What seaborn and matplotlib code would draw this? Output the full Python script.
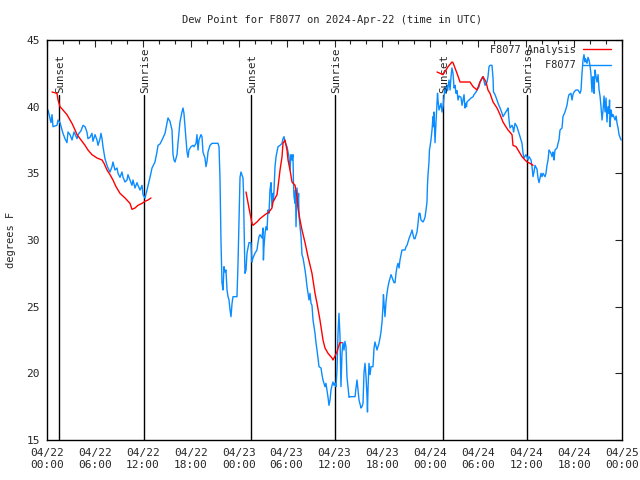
import numpy as np
import pandas as pd
import matplotlib
matplotlib.use("Agg")
import matplotlib.pyplot as plt
import seaborn as sns
from matplotlib.lines import Line2D

# ---------------- data ----------------
# hours since 2024-04-22 00:00 UTC
obs_hours = [0.13, 0.50, 0.63, 0.75, 1.25, 1.38, 1.63, 2.0, 2.25, 2.5, 2.63, 2.88, 3.13, 3.38, 3.76, 3.88,
             4.26, 4.51, 4.76, 5.0, 5.13, 5.38, 5.63, 5.76, 6.01, 6.26, 6.39, 6.64, 6.76, 6.89, 7.01, 7.26,
             7.51, 7.64, 7.89, 8.14, 8.26, 8.51, 8.77, 8.89, 9.14, 9.39, 9.52, 9.77, 10.02, 10.14, 10.39,
             10.64, 10.77, 11.02, 11.27, 11.39, 11.65, 11.9, 12.02, 12.27, 12.52, 12.9, 13.15, 13.52, 13.77,
             13.9, 14.15, 14.4, 14.78, 15.03, 15.15, 15.4, 15.65, 15.78, 15.9, 16.03, 16.28, 16.4, 16.65,
             16.9, 17.03, 17.15, 17.41, 17.53, 17.66, 17.78, 18.03, 18.28, 18.41, 18.66, 18.78, 18.91, 19.03,
             19.28, 19.41, 19.53, 19.78, 19.91, 20.04, 20.16, 20.41, 20.66, 21.41, 21.54, 21.66, 21.79, 21.91,
             22.04, 22.16, 22.29, 22.41, 22.54, 22.67, 22.79, 22.92, 23.04, 23.17, 23.29, 23.79, 23.92, 24.04,
             24.17, 24.29, 24.54, 24.6, 24.67, 24.79, 24.92, 25.04, 25.29, 25.54, 25.67, 25.79, 26.04, 26.29,
             26.42, 26.55, 26.67, 26.92, 27.05, 27.1, 27.17, 27.3, 27.42, 27.55, 27.67, 27.8, 27.92, 28.05,
             28.17, 28.3, 28.36, 28.43, 28.55, 28.68, 28.8, 28.93, 29.18, 29.43, 29.55, 29.68, 29.8, 30.05,
             30.18, 30.3, 30.43, 30.55, 30.68, 30.8, 30.86, 30.93, 31.06, 31.12, 31.18, 31.31, 31.43, 31.5,
             31.56, 31.81, 31.93, 32.06, 32.31, 32.43, 32.56, 32.68, 32.81, 32.93, 33.06, 33.18, 33.31, 33.56,
             33.68, 33.81, 34.06, 34.31, 34.43, 34.56, 34.81, 34.93, 35.06, 35.19, 35.31, 35.44, 35.56, 35.69,
             35.81, 35.94, 36.06, 36.19, 36.31, 36.37, 36.44, 36.56, 36.69, 36.81, 36.94, 37.06, 37.19, 37.31,
             37.44, 37.56, 37.69, 37.82, 37.94, 38.19, 38.57, 38.69, 38.82, 38.94, 39.07, 39.32, 39.44, 39.57,
             39.7, 39.82, 39.95, 40.07, 40.13, 40.2, 40.32, 40.45, 40.57, 40.82, 40.88, 40.95, 41.07, 41.32,
             41.45, 41.57, 41.7, 41.82, 41.95, 42.07, 42.13, 42.2, 42.32, 42.45, 42.57, 42.7, 42.82, 43.08,
             43.2, 43.33, 43.45, 43.58, 43.7, 43.83, 43.95, 44.08, 44.2, 44.33, 44.45, 44.83, 44.96, 45.08,
             45.21, 45.33, 45.58, 45.71, 45.83, 45.96, 46.08, 46.33, 46.46, 46.58, 46.71, 46.83, 47.08, 47.21,
             47.33, 47.46, 47.58, 47.64, 47.71, 47.83, 47.89, 47.96, 48.08, 48.21, 48.33, 48.39, 48.46, 48.59,
             48.71, 48.84, 48.9, 48.96, 49.09, 49.34, 49.46, 49.59, 49.71, 49.84, 49.96, 50.09, 50.15, 50.22,
             50.34, 50.47, 50.59, 50.71, 50.84, 50.9, 50.97, 51.09, 51.22, 51.34, 51.47, 51.59, 51.84, 51.97,
             52.09, 52.22, 52.34, 52.47, 52.53, 52.59, 52.85, 53.1, 53.35, 53.47, 53.72, 53.85, 54.1, 54.22,
             54.47, 54.6, 54.85, 55.1, 55.22, 55.35, 55.47, 55.72, 55.85, 55.91, 56.1, 56.35, 56.48, 56.73,
             56.98, 57.1, 57.35, 57.6, 57.73, 57.85, 57.98, 58.23, 58.35, 58.42, 58.61, 58.85, 58.98, 59.23,
             59.48, 59.61, 59.73, 59.98, 60.11, 60.23, 60.36, 60.61, 60.73, 60.86, 60.98, 61.11, 61.36, 61.42,
             61.48, 61.61, 61.86, 61.98, 62.11, 62.36, 62.48, 62.61, 62.74, 62.86, 63.11, 63.24, 63.36, 63.42,
             63.49, 63.61, 63.86, 63.99, 64.11, 64.24, 64.49, 64.61, 64.86, 65.11, 65.24, 65.36, 65.61, 65.74,
             65.86, 65.99, 66.24, 66.49, 66.74, 66.87, 66.99, 67.12, 67.24, 67.37, 67.43, 67.62, 67.74, 67.87,
             67.99, 68.12, 68.24, 68.37, 68.43, 68.5, 68.62, 68.75, 68.87, 69.0, 69.13, 69.25, 69.37, 69.5,
             69.63, 69.75, 69.88, 70.0, 70.12, 70.25, 70.38, 70.44, 70.5, 70.63, 70.75, 70.88, 71.13, 71.26,
             71.38, 71.51, 71.63, 71.88]
obs_dewpt = [39.75, 38.8, 39.4, 38.5, 38.6, 39.0, 38.8, 38.0, 37.6, 37.3, 38.1, 37.9, 37.5, 38.1, 37.6, 37.9,
             38.2, 38.6, 38.5, 38.1, 37.6, 37.7, 38.0, 37.4, 37.9, 37.5, 37.1, 37.6, 38.0, 37.6, 37.0, 36.1,
             35.6, 35.4, 35.1, 35.5, 35.85, 35.25, 35.4, 35.0, 34.7, 35.1, 34.7, 34.35, 34.5, 34.9, 34.5,
             34.1, 34.5, 33.9, 34.3, 34.1, 33.75, 34.1, 33.4, 33.15, 33.75, 34.7, 35.4, 35.85, 36.6,
             37.1, 37.2, 37.5, 38.0, 38.75, 39.15, 38.9, 38.25, 36.4, 36.0, 35.85, 36.4, 37.25, 38.85,
             39.6, 39.9, 39.5, 37.5, 36.6, 36.2, 36.75, 37.0, 37.1, 37.0, 37.25, 37.9, 36.75, 37.5,
             37.9, 37.75, 36.6, 36.15, 35.5, 35.9, 36.6, 37.1, 37.25, 37.25, 37.0, 34.65, 29.8, 26.8,
             26.25, 28.0, 27.6, 27.75, 26.25, 25.75, 25.5, 24.75, 24.25, 25.25, 25.75, 25.75, 28.3, 31.25,
             34.7, 35.1, 34.65, 33.75, 31.25, 27.5, 27.75, 29.0, 29.8, 29.8, 28.35, 28.65, 29.0, 29.25,
             29.8, 30.25, 30.4, 30.15, 30.9, 28.5, 29.5, 30.5, 31.0, 30.75, 32.25, 32.0, 33.75, 34.3,
             32.5, 33.5, 33.0, 33.75, 35.5, 36.25, 36.6, 37.0, 37.1, 37.25, 37.6, 37.75, 37.35, 37.0,
             36.6, 36.25, 35.25, 36.4, 36.0, 36.4, 34.3, 33.25, 32.75, 33.75, 31.0, 33.9, 32.5, 33.5,
             31.75, 30.25, 28.9, 28.65, 27.75, 27.2, 26.5, 26.0, 25.5, 26.0, 25.25, 25.1, 24.0, 23.0,
             22.3, 21.75, 20.5, 20.4, 19.9, 19.5, 19.0, 19.25, 18.75, 18.2, 17.6, 18.0, 18.75, 19.1,
             19.35, 19.1, 19.25, 19.0, 20.25, 21.5, 23.0, 24.5, 22.75, 19.0, 21.5, 22.3, 21.75, 22.4,
             22.0, 19.75, 19.0, 18.2, 18.25, 18.25, 18.25, 18.9, 19.5, 18.75, 18.0, 17.4, 17.5, 17.75,
             20.1, 20.75, 19.75, 18.25, 17.1, 18.9, 20.75, 19.9, 20.5, 20.5, 21.15, 21.9, 22.35, 21.75,
             22.0, 22.25, 22.65, 23.1, 23.85, 25.0, 25.9, 25.3, 24.25, 25.35, 26.0, 26.5, 26.85, 27.4,
             27.2, 27.0, 26.8, 26.8, 27.5, 28.0, 28.25, 27.9, 28.5, 28.9, 29.25, 29.25, 29.5, 29.6,
             29.85, 30.1, 30.5, 30.75, 30.4, 30.1, 30.1, 30.6, 31.25, 32.0, 32.0, 31.5, 31.35, 31.5,
             31.7, 32.25, 32.85, 34.1, 34.9, 35.85, 36.75, 37.0, 37.5, 38.25, 39.25, 38.5, 39.6, 37.3,
             38.85, 40.25, 41.0, 40.5, 39.75, 40.25, 39.6, 40.0, 40.75, 41.5, 41.0, 41.6, 41.2, 41.5,
             42.0, 41.25, 42.25, 42.9, 42.5, 42.0, 41.4, 41.6, 41.0, 41.2, 40.5, 40.8, 40.7, 40.1,
             40.5, 40.9, 39.9, 40.25, 40.0, 40.35, 40.5, 40.65, 40.75, 40.9, 41.1, 41.25, 41.5, 41.85,
             42.15, 42.25, 41.6, 41.85, 42.25, 43.0, 43.1, 43.1, 42.15, 41.1, 40.9, 40.5, 40.25, 39.9,
             39.5, 39.25, 39.5, 39.75, 39.9, 39.0, 38.4, 38.6, 38.4, 38.1, 38.75, 38.5, 38.25, 37.75,
             37.25, 36.5, 36.15, 36.4, 36.25, 36.0, 36.25, 36.0, 35.5, 34.75, 35.1, 35.6, 35.3, 35.0,
             34.65, 34.3, 35.0, 34.75, 35.0, 34.75, 35.0, 35.6, 36.0, 36.75, 36.5, 36.25, 36.6, 36.4,
             36.0, 36.75, 36.9, 37.25, 37.5, 38.25, 38.4, 39.25, 39.6, 40.1, 40.6, 40.9, 41.0, 40.5,
             40.9, 41.1, 41.25, 41.25, 41.0, 41.25, 42.5, 43.5, 43.9, 43.35, 43.6, 43.25, 43.7, 43.5,
             43.1, 42.4, 41.1, 42.25, 41.75, 41.0, 42.75, 42.25, 41.85, 42.4, 41.25, 40.8, 40.0, 39.0,
             39.75, 40.8, 39.6, 40.65, 38.85, 40.0, 39.5, 40.5, 38.5, 39.75, 39.25, 39.4, 39.0, 39.3,
             38.75, 38.4, 37.9, 37.5]

ana_hours = [0.63, 1.25, 1.38, 1.63, 2.0, 2.5, 2.88, 3.13, 3.51, 3.76, 4.26, 4.76, 5.13, 5.63, 6.26, 6.89,
             7.14, 7.51, 7.89, 8.26, 8.64, 9.14, 9.77, 10.39, 10.64, 11.02, 11.39, 11.9, 12.27, 12.65, 13.02,
             24.92, 25.29, 25.67, 25.79, 26.29, 26.67, 27.3, 27.8, 28.17, 28.3, 28.8, 28.93, 29.18, 29.43,
             29.55, 29.8, 30.05, 30.18, 30.43, 30.68, 31.06, 31.31, 31.43, 31.68, 31.93, 32.31, 32.68, 33.18,
             33.56, 33.81, 34.18, 34.56, 34.81, 35.19, 35.69, 35.81, 36.31, 36.44, 36.69, 36.94,
             48.84, 49.21, 49.59, 49.96, 50.22, 50.71, 50.84, 51.34, 51.72, 52.09, 52.97, 53.35, 53.85, 54.22,
             54.6, 54.97, 55.22, 55.47, 55.85, 56.35, 56.73, 57.1, 57.35, 57.73, 58.23, 58.35, 58.73, 58.98,
             59.48, 59.86, 60.11, 60.48, 60.86]
ana_dewpt = [41.1, 41.0, 40.5, 40.0, 39.75, 39.4, 39.0, 38.75, 38.25, 37.9, 37.5, 37.1, 36.75, 36.4, 36.15, 36.0,
             35.75, 35.25, 34.9, 34.5, 34.0, 33.5, 33.15, 32.75, 32.3, 32.4, 32.6, 32.75, 32.9, 33.0, 33.15,
             33.6, 32.4, 31.25, 31.1, 31.35, 31.6, 31.9, 32.1, 32.4, 32.85, 33.4, 34.0, 35.25, 36.25,
             37.25, 37.5, 36.75, 36.0, 35.25, 34.35, 34.1, 33.25, 32.4, 31.5, 30.75, 29.8, 28.75, 27.5,
             26.0, 25.25, 24.0, 22.5, 21.9, 21.5, 21.15, 21.0, 21.6, 21.9, 22.3, 22.3,
             42.6, 42.5, 42.4, 42.75, 43.0, 43.35, 43.3, 42.5, 41.85, 41.85, 41.85, 41.5, 41.25, 41.85,
             42.25, 41.85, 41.25, 41.0, 40.35, 39.9, 39.4, 38.85, 38.6, 38.25, 37.9, 37.1, 37.0, 36.75,
             36.25, 36.0, 35.85, 35.75, 35.6]
ana_segment = [1] * 31 + [2] * 40 + [3] * 33

sun_hours = [1.5, 12.15, 25.55, 36.06, 49.59, 60.11]
sun_labels = ["Sunset", "Sunrise", "Sunset", "Sunrise", "Sunset", "Sunrise"]

xtick_hours = [0, 6, 12, 18, 24, 30, 36, 42, 48, 54, 60, 66, 72]
xtick_labels = ["04/22\n00:00", "04/22\n06:00", "04/22\n12:00", "04/22\n18:00",
                "04/23\n00:00", "04/23\n06:00", "04/23\n12:00", "04/23\n18:00",
                "04/24\n00:00", "04/24\n06:00", "04/24\n12:00", "04/24\n18:00",
                "04/25\n00:00"]

# ---------------- plot ----------------
sns.set_style("white")
mono = ["DejaVu Sans Mono"]
plt.rcParams["font.family"] = mono
plt.rcParams["font.size"] = 8

fig = plt.figure(figsize=(6.4, 4.8), dpi=100)
ax = fig.add_axes([47 / 640, 40 / 480, 575 / 640, 400 / 480])

RED = "#ff0000"
BLUE = "#0a8cff"

obs = pd.DataFrame({"hour": obs_hours, "dewpt": obs_dewpt})
ana = pd.DataFrame({"hour": ana_hours, "dewpt": ana_dewpt, "seg": ana_segment})

# sunrise / sunset markers
for h, lab in zip(sun_hours, sun_labels):
    ax.plot([h, h], [15, 40.9], color="black", lw=1.0, zorder=1)
    ax.text(h + 0.2, 41.05, lab, rotation=90, ha="center", va="bottom",
            fontsize=7.8, family=mono)

sns.lineplot(data=ana, x="hour", y="dewpt", units="seg", estimator=None, sort=False,
             color=RED, lw=1.0, ax=ax, zorder=3)
sns.lineplot(data=obs, x="hour", y="dewpt", estimator=None, sort=False,
             color=BLUE, lw=1.0, ax=ax, zorder=2)

ax.set_xlim(0, 72)
ax.set_ylim(15, 45)
ax.set_xticks(xtick_hours)
ax.set_xticklabels(xtick_labels, fontsize=8)
ax.set_xticks(np.arange(0, 73, 2), minor=True)
ax.set_yticks([15, 20, 25, 30, 35, 40, 45])
ax.tick_params(axis="both", which="major", direction="in", length=5, width=0.8,
               top=True, right=True, labelsize=8, pad=6)
ax.tick_params(axis="x", which="minor", direction="in", length=3, width=0.8, top=True)
ax.tick_params(axis="y", which="major", pad=5)
for s in ax.spines.values():
    s.set_color("black")
    s.set_linewidth(1.0)

ax.set_xlabel("")
ax.set_ylabel("degrees F", fontsize=7.5)
ax.yaxis.set_label_coords((16 - 47) / 575, 0.5)
fig.text(332 / 640, 1 - 20 / 480, "Dew Point for F8077 on 2024-Apr-22 (time in UTC)",
         ha="center", va="center", fontsize=7.5, family=mono)

handles = [Line2D([], [], color=RED, lw=1.0), Line2D([], [], color=BLUE, lw=1.0)]
leg = ax.legend(handles, ["F8077 Analysis", "         F8077"], loc="upper right",
                bbox_to_anchor=((611 - 47) / 575, (440 - 45) / 400), frameon=False,
                markerfirst=False, handlelength=2.75, handletextpad=0.7,
                borderaxespad=0.0, borderpad=0.0,
                labelspacing=0.5, prop={"family": mono, "size": 7.4})

fig.savefig("out.png", dpi=100)
